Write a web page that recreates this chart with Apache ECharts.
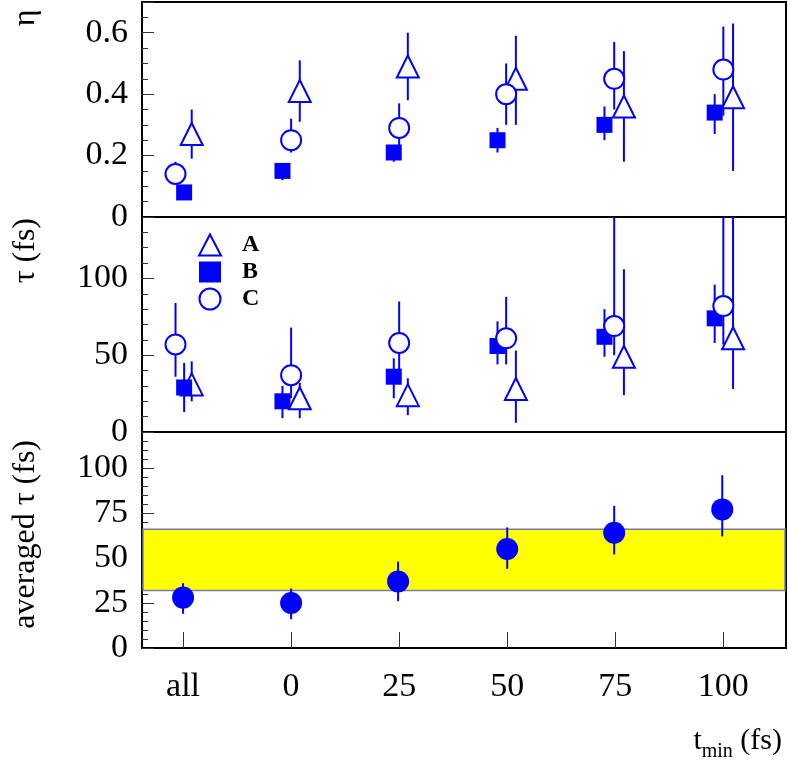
<!DOCTYPE html>
<html>
<head>
<meta charset="utf-8">
<script src="https://cdn.jsdelivr.net/npm/echarts@6/dist/echarts.min.js"></script>
</head>
<body style="margin:0;background:#fff">
<div id="main" style="width:788px;height:780px;"></div>
<script>
var cats = ['all', '0', '25', '50', '75', '100'];
// eta panel: [value, low, high]
var etaA = [[0.27, 0.19, 0.35], [0.41, 0.31, 0.51], [0.49, 0.38, 0.60], [0.45, 0.30, 0.59], [0.36, 0.18, 0.54], [0.39, 0.15, 0.63]];
var etaB = [[0.08, 0.07, 0.09], [0.15, 0.12, 0.17], [0.21, 0.18, 0.23], [0.25, 0.21, 0.29], [0.30, 0.25, 0.36], [0.34, 0.27, 0.40]];
var etaC = [[0.14, 0.12, 0.18], [0.25, 0.21, 0.32], [0.29, 0.23, 0.37], [0.40, 0.30, 0.50], [0.45, 0.35, 0.57], [0.48, 0.33, 0.62]];
// tau panel
var tauA = [[31, 20, 46], [22, 9, 32], [24, 11, 35], [28, 6, 53], [49, 24, 106], [61, 28, 145]];
var tauB = [[29, 13, 45], [20, 9, 30], [36, 22, 48], [56, 44, 72], [62, 49, 80], [74, 58, 96]];
var tauC = [[57, 36, 84], [37, 22, 68], [58, 40, 85], [61, 44, 88], [69, 50, 145], [82, 57, 145]];
// averaged tau
var avgTau = [[28, 19, 36], [25, 16, 33], [37, 26, 48], [55, 44, 67], [64, 52, 79], [77, 62, 96]];
var band = [32, 66];
// horizontal offsets of each series inside a category
var xA = [0.08, 0.08, 0.08, 0.08, 0.08, 0.09];
var xB = [0.01, -0.08, -0.05, -0.09, -0.1, -0.08];
var xC = [-0.07, 0.0, 0.0, -0.01, -0.01, 0.0];
var xAvg = [0, 0, -0.01, 0, -0.01, -0.01];

var blue = '#0000ff';
var font = 'Liberation Serif';

function pts(arr, off) {
  return arr.map(function (d, i) { return [i + off[i], d[0], d[1], d[2]]; });
}
function errSeries(data, idx) {
  return {
    type: 'custom', xAxisIndex: idx, yAxisIndex: idx, clip: true, silent: true,
    renderItem: function (params, api) {
      var a = api.coord([api.value(0), api.value(2)]);
      var b = api.coord([api.value(0), api.value(3)]);
      return { type: 'line', shape: { x1: a[0], y1: a[1], x2: b[0], y2: b[1] }, style: { stroke: blue, lineWidth: 2 } };
    },
    encode: { x: 0, y: [2, 3] },
    data: data, z: 2
  };
}
function markSeries(name, data, idx, symbol, size, filled) {
  return {
    name: name, type: 'scatter', xAxisIndex: idx, yAxisIndex: idx,
    symbol: symbol, symbolSize: size,
    itemStyle: filled ? { color: blue, opacity: 1 } : { color: '#fff', borderColor: blue, borderWidth: 2, opacity: 1 },
    data: data.map(function (d) { return [d[0], d[1]]; }), z: 3
  };
}

var grids = [
  { left: 142, width: 644, top: 2, height: 215 },
  { left: 142, width: 644, top: 217, height: 215 },
  { left: 142, width: 644, top: 432, height: 216 }
].map(function (g) { g.show = true; g.borderColor = '#000'; g.borderWidth = 2; g.backgroundColor = 'transparent'; return g; });

function xAxis(idx, labels) {
  return {
    type: 'value', gridIndex: idx, min: -0.38, max: 5.58,
    axisLine: { show: false, onZero: false }, splitLine: { show: false },
    axisTick: labels ? { show: true, inside: true, length: 16, customValues: [0, 1, 2, 3, 4, 5], lineStyle: { color: '#333' } } : { show: false },
    axisLabel: labels ? {
      show: true, customValues: [0, 1, 2, 3, 4, 5], margin: 22,
      formatter: function (v) { return cats[Math.round(v)]; },
      fontFamily: font, fontSize: 34, color: '#000'
    } : { show: false }
  };
}
function yAxis(idx, max, interval, split, fmt) {
  return {
    type: 'value', gridIndex: idx, min: 0, max: max, interval: interval,
    axisLine: { show: false, onZero: false }, splitLine: { show: false },
    axisTick: { show: true, inside: true, length: 12, lineStyle: { color: '#333' } },
    minorTick: { show: true, splitNumber: split, length: 6, lineStyle: { color: '#333' } },
    axisLabel: { fontFamily: font, fontSize: 34, color: '#000', margin: 14, showMaxLabel: false, formatter: fmt }
  };
}

var chart = echarts.init(document.getElementById('main'));
chart.setOption({
  animation: false,
  grid: grids,
  xAxis: [xAxis(0, false), xAxis(1, false), xAxis(2, true)],
  yAxis: [
    yAxis(0, 0.7, 0.2, 4, function (v) { return v === 0 ? '0' : v.toFixed(1); }),
    yAxis(1, 140, 50, 5),
    yAxis(2, 120, 25, 5)
  ],
  legend: {
    left: 193, top: 228, orient: 'vertical', itemGap: 3, itemWidth: 22, itemHeight: 21,
    data: ['A', 'B', 'C'],
    textStyle: { fontFamily: font, fontSize: 24, fontWeight: 'bold', color: '#000', padding: [0, 0, 0, 16] }
  },
  graphic: [
    { type: 'text', x: 26, y: 18, rotation: Math.PI / 2, style: { text: 'η', font: '32px "Liberation Serif"', fill: '#000', align: 'center', verticalAlign: 'middle' } },
    { type: 'text', x: 26, y: 218, rotation: Math.PI / 2, style: { text: 'τ (fs)', font: '32px "Liberation Serif"', fill: '#000', align: 'right', verticalAlign: 'middle' } },
    { type: 'text', x: 26, y: 440, rotation: Math.PI / 2, style: { text: 'averaged τ (fs)', font: '32px "Liberation Serif"', fill: '#000', align: 'right', verticalAlign: 'middle' } },
    { type: 'text', right: 6, top: 726, style: { text: '{a|t}{s|min}{a| (fs)}', rich: { a: { fontFamily: font, fontSize: 30, fill: '#000' }, s: { fontFamily: font, fontSize: 20, fill: '#000', padding: [22, 0, 0, 0] } } } }
  ],
  series: [
    errSeries(pts(etaA, xA), 0), errSeries(pts(etaB, xB), 0), errSeries(pts(etaC, xC), 0),
    markSeries('A', pts(etaA, xA), 0, 'triangle', 22, false),
    markSeries('B', pts(etaB, xB), 0, 'rect', 16, true),
    markSeries('C', pts(etaC, xC), 0, 'circle', 20, false),
    errSeries(pts(tauA, xA), 1), errSeries(pts(tauB, xB), 1), errSeries(pts(tauC, xC), 1),
    markSeries('A', pts(tauA, xA), 1, 'triangle', 22, false),
    markSeries('B', pts(tauB, xB), 1, 'rect', 16, true),
    markSeries('C', pts(tauC, xC), 1, 'circle', 20, false),
    {
      type: 'line', xAxisIndex: 2, yAxisIndex: 2, data: [], silent: true,
      markArea: {
        silent: true,
        itemStyle: { color: '#ffff00', borderColor: '#7777bb', borderWidth: 1.5 },
        data: [[{ yAxis: band[0], x: 143 }, { yAxis: band[1], x: 785 }]]
      }
    },
    errSeries(pts(avgTau, xAvg), 2),
    markSeries('avg', pts(avgTau, xAvg), 2, 'circle', 22, true)
  ]
});
</script>
</body>
</html>
